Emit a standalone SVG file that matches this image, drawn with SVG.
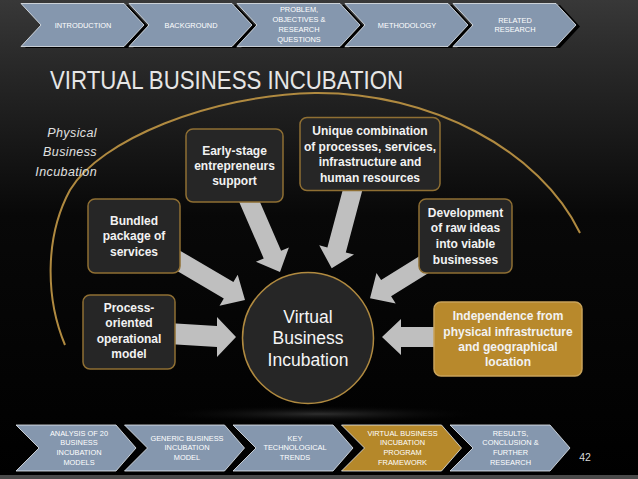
<svg xmlns="http://www.w3.org/2000/svg" width="638" height="479" viewBox="0 0 638 479">
<defs>
<linearGradient id="bg" x1="0" y1="0" x2="0" y2="1">
<stop offset="0" stop-color="#383838"/>
<stop offset="0.12" stop-color="#2a2a2a"/>
<stop offset="0.45" stop-color="#080808"/>
<stop offset="1" stop-color="#000"/>
</linearGradient>
<radialGradient id="glow" cx="0.5" cy="0.5" r="0.5">
<stop offset="0" stop-color="#2e2e2e"/>
<stop offset="1" stop-color="#000" stop-opacity="0"/>
</radialGradient>
</defs>
<style>
.chev{fill:#8597ae;stroke:#e8edf2;stroke-width:0.8}
.chevg{fill:#b5882a;stroke:#e8edf2;stroke-width:0.8}
.shadow{fill:#000}
.ct{font-family:"Liberation Sans",Arial,sans-serif;font-size:7.4px;fill:#fff;text-anchor:middle}
.box{fill:#262626;stroke:#8f6f33;stroke-width:1.5}
.gbox{fill:#b8892c;stroke:#c9a35a;stroke-width:1.5}
.bt{font-family:"Liberation Sans",Arial,sans-serif;font-size:12px;font-weight:bold;fill:#f2f2f2;text-anchor:middle}
.arr{fill:#bfbfbf}
.ring{fill:#262626;stroke:#b08a40;stroke-width:1.5}
.circt{font-family:"Liberation Sans",Arial,sans-serif;font-size:17.5px;fill:#f5f5f5;text-anchor:middle}
</style>
<rect width="638" height="479" fill="url(#bg)"/>
<ellipse cx="320" cy="414" rx="170" ry="9" fill="url(#glow)"/>
<rect x="0" y="475" width="638" height="4" fill="#4a4a4a"/>

<g id="top-nav">
<polygon class="shadow" points="25,5 128,5 148,26.5 128,48 25,48 45,26.5"/>
<polygon class="shadow" points="133,5 236,5 256,26.5 236,48 133,48 153,26.5"/>
<polygon class="shadow" points="241,5 344,5 364,26.5 344,48 241,48 261,26.5"/>
<polygon class="shadow" points="349,5 452,5 472,26.5 452,48 349,48 369,26.5"/>
<polygon class="shadow" points="457,5 560,5 580,26.5 560,48 457,48 477,26.5"/>
<polygon class="chev" points="21,3.5 124,3.5 144,25 124,46.5 21,46.5 41,25"/>
<polygon class="chev" points="129,3.5 232,3.5 252,25 232,46.5 129,46.5 149,25"/>
<polygon class="chev" points="237,3.5 340,3.5 360,25 340,46.5 237,46.5 257,25"/>
<polygon class="chev" points="345,3.5 448,3.5 468,25 448,46.5 345,46.5 365,25"/>
<polygon class="chev" points="453,3.5 556,3.5 576,25 556,46.5 453,46.5 473,25"/>
<text class="ct" x="83" y="27.7">INTRODUCTION</text>
<text class="ct" x="191" y="27.7">BACKGROUND</text>
<text class="ct" x="299"><tspan x="299" y="11.5">PROBLEM,</tspan><tspan x="299" y="21.7">OBJECTIVES &amp;</tspan><tspan x="299" y="32">RESEARCH</tspan><tspan x="299" y="42.2">QUESTIONS</tspan></text>
<text class="ct" x="407" y="27.7">METHODOLOGY</text>
<text class="ct" x="515"><tspan x="515" y="22.7">RELATED</tspan><tspan x="515" y="32">RESEARCH</tspan></text>
</g>

<text id="title" x="50" y="89" font-family="'Liberation Sans',Arial,sans-serif" font-size="25" fill="#e6e6e6" textLength="353" lengthAdjust="spacingAndGlyphs">VIRTUAL BUSINESS INCUBATION</text>

<g id="physical-arc">
<path d="M65,345 C46,300 44,238 70,190 C100,140 210,95 315,93 C430,92 540,150 580,233" fill="none" stroke="#b08a40" stroke-width="2"/>
<text font-family="'Liberation Sans',Arial,sans-serif" font-size="12.5" font-style="italic" fill="#e0e0e0" text-anchor="end" letter-spacing="0.4"><tspan x="97" y="136.5">Physical</tspan><tspan x="97" y="155.5">Business</tspan><tspan x="97" y="175.5">Incubation</tspan></text>
</g>

<g id="connectors">
<polygon class="arr" points="255.5,191.8 281.1,250.8 288.9,247.4 280,272 255.9,261.8 263.7,258.4 238.1,199.4"/>
<polygon class="arr" points="363.8,184.7 345.8,252.4 354,254.6 331.7,268.3 319.2,245.3 327.4,247.5 345.4,179.9"/>
<polygon class="arr" points="177.9,249.4 233.4,282.1 237.7,274.8 245,300 219.5,305.8 223.8,298.5 168.3,265.8"/>
<polygon class="arr" points="439.8,265.9 391.1,296.3 395.7,303.5 370,298.3 376.5,272.9 381.1,280.1 429.8,249.7"/>
<polygon class="arr" points="168,323 217,326 217,317 236,337 217,357 217,347 168,344"/>
<polygon class="arr" points="445,327 401,327 401,319 382,337 401,355 401,347 445,347"/>
</g>

<g id="node-early">
<rect class="box" x="186" y="129" width="97" height="73" rx="7"/>
<text class="bt"><tspan x="234.5" y="155">Early-stage</tspan><tspan x="234.5" y="170">entrepreneurs</tspan><tspan x="234.5" y="185">support</tspan></text>
</g>
<g id="node-bundled">
<rect class="box" x="88" y="199" width="92" height="74" rx="7"/>
<text class="bt"><tspan x="134" y="225">Bundled</tspan><tspan x="134" y="240">package of</tspan><tspan x="134" y="256">services</tspan></text>
</g>
<g id="node-unique">
<rect class="box" x="300" y="117.5" width="140" height="73" rx="7"/>
<text class="bt"><tspan x="370" y="135">Unique combination</tspan><tspan x="370" y="151">of processes, services,</tspan><tspan x="370" y="166">infrastructure and</tspan><tspan x="370" y="181.5">human resources</tspan></text>
</g>
<g id="node-development">
<rect class="box" x="419" y="199" width="93" height="74" rx="7"/>
<text class="bt"><tspan x="465.5" y="216.5">Development</tspan><tspan x="465.5" y="232">of raw ideas</tspan><tspan x="465.5" y="247.5">into viable</tspan><tspan x="465.5" y="263.5">businesses</tspan></text>
</g>
<g id="node-process">
<rect class="box" x="83" y="295" width="92" height="74" rx="7"/>
<text class="bt"><tspan x="129" y="312">Process-</tspan><tspan x="129" y="327">oriented</tspan><tspan x="129" y="342.5">operational</tspan><tspan x="129" y="358">model</tspan></text>
</g>
<g id="node-independence">
<rect class="gbox" x="434" y="302" width="148" height="74" rx="7"/>
<text class="bt"><tspan x="508" y="320">Independence from</tspan><tspan x="508" y="335.5">physical infrastructure</tspan><tspan x="508" y="351">and geographical</tspan><tspan x="508" y="365.5">location</tspan></text>
</g>
<g id="node-vbi">
<circle class="ring" cx="308" cy="338" r="65.5"/>
<text class="circt"><tspan x="308" y="323">Virtual</tspan><tspan x="308" y="344">Business</tspan><tspan x="308" y="366">Incubation</tspan></text>
</g>

<g id="bottom-nav">
<polygon class="chev" points="16,425 116,425 136,448 116,471 16,471 39,448"/>
<polygon class="chev" points="124.5,425 224.5,425 244.5,448 224.5,471 124.5,471 147.5,448"/>
<polygon class="chev" points="233,425 333,425 353,448 333,471 233,471 256,448"/>
<polygon class="chevg" points="341.5,425 441.5,425 461.5,448 441.5,471 341.5,471 364.5,448"/>
<polygon class="chev" points="450,425 550,425 570,448 550,471 450,471 473,448"/>
<text class="ct"><tspan x="79" y="435.7">ANALYSIS OF 20</tspan><tspan x="79" y="445.4">BUSINESS</tspan><tspan x="79" y="455">INCUBATION</tspan><tspan x="79" y="464.7">MODELS</tspan></text>
<text class="ct"><tspan x="187" y="441.2">GENERIC BUSINESS</tspan><tspan x="187" y="450.4">INCUBATION</tspan><tspan x="187" y="459.9">MODEL</tspan></text>
<text class="ct"><tspan x="295" y="441.2">KEY</tspan><tspan x="295" y="450.4">TECHNOLOGICAL</tspan><tspan x="295" y="459.9">TRENDS</tspan></text>
<text class="ct"><tspan x="402.5" y="435.7">VIRTUAL BUSINESS</tspan><tspan x="402.5" y="445.4">INCUBATION</tspan><tspan x="402.5" y="455">PROGRAM</tspan><tspan x="402.5" y="464.7">FRAMEWORK</tspan></text>
<text class="ct"><tspan x="510.5" y="435.7">RESULTS,</tspan><tspan x="510.5" y="445.4">CONCLUSION &amp;</tspan><tspan x="510.5" y="455">FURTHER</tspan><tspan x="510.5" y="464.7">RESEARCH</tspan></text>
</g>
<text id="page-number" x="585" y="461.3" font-family="'Liberation Sans',Arial,sans-serif" font-size="10.5" fill="#d9d9d9" text-anchor="middle">42</text>
</svg>
